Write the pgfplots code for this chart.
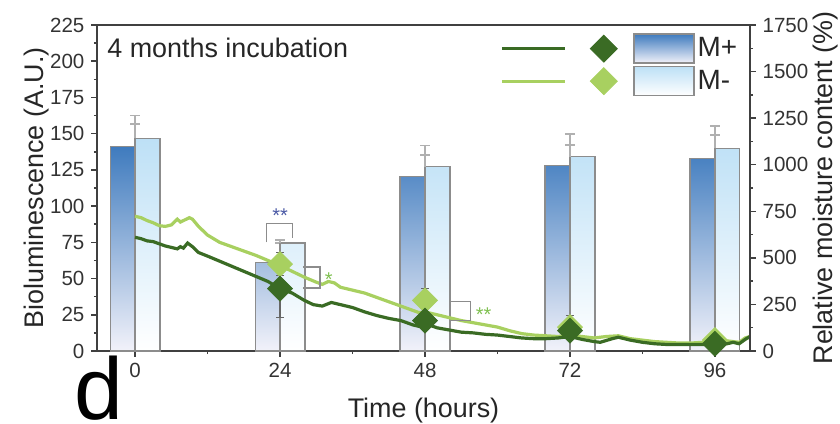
\documentclass[border=0pt]{standalone}
\usepackage{pgfplots}
\pgfplotsset{compat=1.18}
\usepackage{fontspec}
\setmainfont{Liberation Sans}
\definecolor{mplus}{HTML}{3F7BBE}
\definecolor{mplusb}{HTML}{F2F2FA}
\definecolor{mminus}{HTML}{BDE0F6}
\definecolor{dkgreen}{HTML}{3A6B24}
\definecolor{ltgreen}{HTML}{A8D060}
\definecolor{baredge}{HTML}{8C8C8C}
\definecolor{errgray}{HTML}{B0B0B0}
\definecolor{axgray}{HTML}{404040}
\definecolor{starblue}{HTML}{4B5AA5}
\definecolor{stargreen}{HTML}{7FC050}
\pgfplotsset{
  common/.style={
    scale only axis, width=326.5bp, height=163bp,
    at={(48.5bp,36.5bp)}, anchor=south west,
    xmin=-6.3, xmax=101.8,
    axis line style={draw=axgray, line width=0.75bp},
    tick style={draw=axgray, line width=0.75bp},
    major tick length=2.8bp, minor tick length=1.6bp,
    tick align=outside,
    tick label style={font=\fontsize{10.3}{12}\selectfont, text=black!80},
    /pgf/number format/assume math mode=true,
    /pgf/number format/1000 sep={},
  }
}
\pgfplotstableread{
t v
0 78.5
1 77.5
2 76
3 75.5
4 74
5 72.5
6 71.5
7 70.5
7.5 72
8 71
8.7 74.5
9.5 72
10.5 68
12 65.5
14 62
16 58.5
18 55
20 51.5
22 48
24 43
26 40
28 35
29.5 32
31 31
32.5 33.5
34 32
36 30
38 27
40 24.5
42 22.5
44 21
46 18
47 17
48 19
50 16
52 14.5
54 13
56 12.5
58 11.5
60 11
62 10
64 9
66 8.5
68 8.5
70 9
72 10
74 8
76 6.5
77 6
79 8.5
80 9.5
82 7.5
84 6
86 5
88 4.5
90 4.5
92 4.5
94 4.5
96 5
98 5
99 6
100 5
101 8
101.8 10
}\darkline
\pgfplotstableread{
t v
0 93
1 92
2 90
3 88.5
4 86.5
5 86
6 87
7 91
7.5 89
8 90
9 92
9.5 91
10.5 86
12 80
14 75
16 72
18 69
20 66
22 62.5
24 59
26 55
28 51
30 47.5
31 46
32 48
33 47
34 44
36 42
38 40
40 37
42 34
44 31
46 28
47 26.5
48 27
50 25
52 23
54 21
56 19.5
58 18
60 16.5
62 14
64 12
66 11
68 10.5
70 10
72 11
74 10
76 9
78 10
80 10.5
82 8.5
84 7.5
86 6.5
88 6
90 5.5
92 5.5
94 6
96 6.5
98 7
100 6
101 9
101.8 10
}\lightline
\begin{document}
\begin{tikzpicture}
\useasboundingbox (0,0) rectangle (420bp,212bp);
\begin{axis}[common,
  ymin=0, ymax=225,
  ytick={0,25,...,225}, minor y tick num=1,
  xtick={0,24,48,72,96}, minor x tick num=1,
  tick pos=left,
  clip=false,
  xlabel={Time (hours)},
  ylabel={Bioluminescence (A.U.)},
  every axis x label/.style={at={(axis description cs:0.5,-0.2055)}, anchor=base, font=\fontsize{13.5}{16}\selectfont, text=black!85},
  every axis y label/.style={at={(axis description cs:-0.093,0.5)}, rotate=90, anchor=center, font=\fontsize{13.5}{16}\selectfont, text=black!85},
  legend style={at={(axis description cs:0.617,0.9755)}, anchor=north west,
    draw=none, fill=none, inner sep=0pt, row sep=1bp,
    nodes={inner sep=1.5bp, font=\fontsize{14}{16}\selectfont, text=black!85}},
  legend cell align=left,
]
% legend images
\addlegendimage{legend image code/.code={
  \draw[dkgreen, line width=1.5bp] (0bp,0bp) -- (31.5bp,0bp);
  \fill[dkgreen] (51bp,6.75bp) -- (57.75bp,0bp) -- (51bp,-6.75bp) -- (44.25bp,0bp) -- cycle;
  \draw[baredge, line width=0.75bp, top color=mplus, bottom color=mplusb] (66bp,-7.25bp) rectangle (96bp,7.25bp);
}}
\addlegendentry{M+}
\addlegendimage{legend image code/.code={
  \draw[ltgreen, line width=1.5bp] (0bp,0bp) -- (31.5bp,0bp);
  \fill[ltgreen] (51bp,6.75bp) -- (57.75bp,0bp) -- (51bp,-6.75bp) -- (44.25bp,0bp) -- cycle;
  \draw[baredge, line width=0.75bp, top color=mminus, bottom color=white] (66bp,-7.25bp) rectangle (96bp,7.25bp);
}}
\addlegendentry{M-}
% bars M+
\addplot[ybar, bar width=4.1, bar shift=-2.05, draw=baredge, line width=0.75bp,
  top color=mplus, bottom color=mplusb,
  error bars/.cd, y dir=plus, y explicit,
  error bar style={draw=errgray, line width=0.75bp},
  error mark options={rotate=90, draw=errgray, mark size=2.5bp, line width=0.75bp}]
  coordinates {(0,141) +- (0,21.4) (24,61) +- (0,13.5) (48,120.3) +- (0,21.7) (72,127.9) +- (0,21.9) (96,133) +- (0,22.3)};
% bars M-
\addplot[ybar, bar width=4.1, bar shift=2.05, draw=baredge, line width=0.75bp,
  top color=mminus, bottom color=white,
  error bars/.cd, y dir=plus, y explicit,
  error bar style={draw=errgray, line width=0.75bp},
  error mark options={rotate=90, draw=errgray, mark size=2.5bp, line width=0.75bp}]
  coordinates {(0,146.8) +- (0,9.9) (24,74.5) +- (0,2.1) (48,127.2) +- (0,8.1) (72,134.1) +- (0,8.1) (96,139.9) +- (0,9.2)};
% lines
\addplot[ltgreen, line width=1.6bp, no marks] table[x=t,y=v] {\lightline};
\addplot[dkgreen, line width=1.6bp, no marks] table[x=t,y=v] {\darkline};
% diamonds
\addplot[only marks, mark=square*, mark size=4.4bp, mark options={rotate=45, fill=ltgreen, draw=ltgreen},
  error bars/.cd, y dir=both, y explicit,
  error bar style={draw=black!60, line width=0.6bp},
  error mark options={rotate=90, draw=black!60, mark size=2bp}]
  coordinates {(24,60) +- (0,8) (48,35) +- (0,8.5) (72,16.5) +- (0,8) (96,7.6) +- (0,3)};
\addplot[only marks, mark=square*, mark size=4.4bp, mark options={rotate=45, fill=dkgreen, draw=dkgreen},
  error bars/.cd, y dir=both, y explicit,
  error bar style={draw=black!60, line width=0.6bp},
  error mark options={rotate=90, draw=black!60, mark size=2bp}]
  coordinates {(24,43) +- (0,20) (48,21) +- (0,3) (72,14) +- (0,4) (96,5) +- (0,2)};
% significance brackets
\draw[baredge, line width=0.75bp] (axis cs:21.8,75) |- (axis cs:26.1,88) -- (axis cs:26.1,78);
\node[starblue, font=\fontsize{10}{12}\selectfont, anchor=south, inner sep=0.5bp] at (axis cs:24,88) {**};
\draw[baredge, line width=0.75bp] (axis cs:27.8,58) -| (axis cs:30.6,43.5) -- (axis cs:27.8,43.5);
\node[stargreen, font=\fontsize{10}{12}\selectfont, anchor=west, inner sep=0.5bp] at (axis cs:31.2,49) {*};
\draw[baredge, line width=0.75bp] (axis cs:52,34) -| (axis cs:55.5,21) -- (axis cs:52,21);
\node[stargreen, font=\fontsize{10}{12}\selectfont, anchor=west, inner sep=0.5bp] at (axis cs:56.2,25) {**};
% title
\node[anchor=base west, inner sep=0pt, font=\fontsize{13.5}{16}\selectfont, text=black!85] at (axis description cs:0.0153,0.899) {4 months incubation};
\end{axis}
\begin{axis}[common,
  hide x axis,
  axis y line*=right,
  ymin=0, ymax=1750,
  ytick={0,250,...,1750}, minor y tick num=1,
  ylabel={Relative moisture content (\%)},
  every axis y label/.style={at={(axis description cs:1.115,0.5)}, rotate=90, anchor=center, font=\fontsize{13.5}{16}\selectfont, text=black!85},
]
\addplot[draw=none, forget plot] coordinates {(0,0)};
\end{axis}
\node[anchor=base west, inner sep=0pt, font=\fontsize{44}{50}\selectfont] at (37bp,2.5bp) {d};
\end{tikzpicture}
\end{document}
